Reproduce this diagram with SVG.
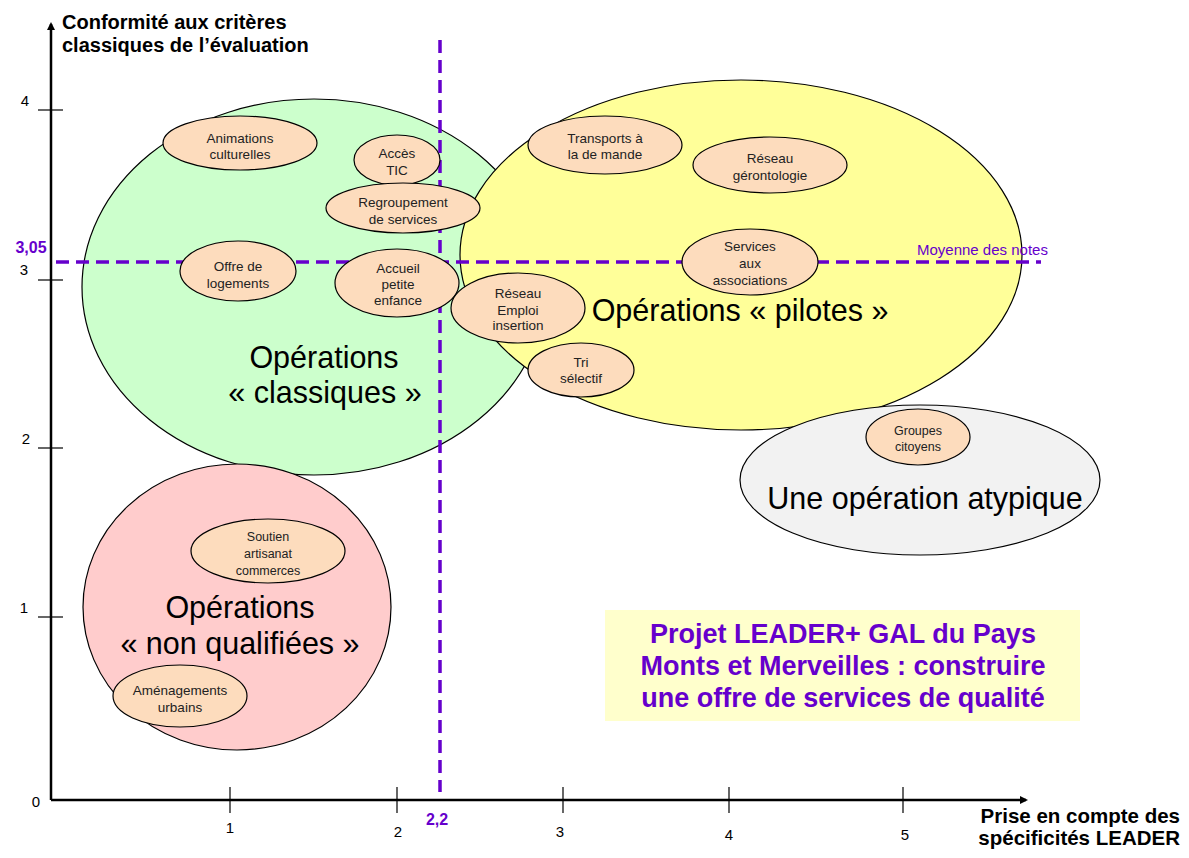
<svg xmlns="http://www.w3.org/2000/svg" width="1189" height="858" viewBox="0 0 1189 858">
<style>
.big{stroke:#000;stroke-width:1.2}
.op{fill:#fddcbd;stroke:#000;stroke-width:1.2}
.t{font-family:"Liberation Sans",Arial,sans-serif;font-size:13.5px;fill:#222;text-anchor:middle}
.t11{font-family:"Liberation Sans",Arial,sans-serif;font-size:12.5px;fill:#222;text-anchor:middle}
.lab{font-family:"Liberation Sans",Arial,sans-serif;font-size:30.5px;fill:#000;text-anchor:middle}
.ax{font-family:"Liberation Sans",Arial,sans-serif;font-weight:bold;fill:#000}
.num{font-family:"Liberation Sans",Arial,sans-serif;font-size:15px;fill:#000;text-anchor:middle}
.pnum{font-family:"Liberation Sans",Arial,sans-serif;font-size:16px;font-weight:bold;fill:#6600cc;text-anchor:middle}
.dash{stroke:#6600cc;stroke-width:3.5;stroke-dasharray:13 7;fill:none}
.axis{stroke:#000;stroke-width:2.5;fill:none}
.tick{stroke:#000;stroke-width:1.2}
.title{font-family:"Liberation Sans",Arial,sans-serif;font-size:27px;font-weight:bold;fill:#6600cc;text-anchor:middle}
</style>
<defs>
<marker id="arr" markerWidth="8" markerHeight="8" refX="6" refY="4" orient="auto" markerUnits="userSpaceOnUse" viewBox="0 0 8 8">
<path d="M0,0 L8,4 L0,8 z" fill="#000"/>
</marker>
</defs>
<rect width="1189" height="858" fill="#fff"/>

<g id="groups">
<ellipse id="g-classiques" class="big" cx="314" cy="287" rx="232" ry="188" fill="#ccffcc"/>
<ellipse id="g-pilotes" class="big" cx="741" cy="255" rx="281" ry="175" fill="#ffff99"/>
<ellipse id="g-atypique" class="big" cx="920" cy="480" rx="180" ry="75" fill="#f2f2f2"/>
<ellipse id="g-nonqual" class="big" cx="237" cy="607" rx="154" ry="143" fill="#ffcccc"/>
</g>

<g id="connectors">
<line x1="51" y1="800" x2="51" y2="24" class="axis" marker-end="url(#arr)"/>
<line x1="51" y1="800" x2="1026" y2="800" class="axis" marker-end="url(#arr)"/>
<line x1="38" y1="110" x2="63" y2="110" class="tick"/>
<line x1="38" y1="280" x2="63" y2="280" class="tick"/>
<line x1="38" y1="448" x2="63" y2="448" class="tick"/>
<line x1="38" y1="617" x2="63" y2="617" class="tick"/>
<line x1="230" y1="787" x2="230" y2="813" class="tick"/>
<line x1="397" y1="787" x2="397" y2="813" class="tick"/>
<line x1="563" y1="787" x2="563" y2="813" class="tick"/>
<line x1="729" y1="787" x2="729" y2="813" class="tick"/>
<line x1="903" y1="787" x2="903" y2="813" class="tick"/>
<line x1="440" y1="40" x2="440" y2="792" class="dash"/>
<line x1="56" y1="262" x2="1041" y2="262" class="dash"/>
</g>

<g id="axis-labels">
<text class="ax" x="62" y="29" style="font-size:20px">Conformité aux critères</text>
<text class="ax" x="62" y="52" style="font-size:20px">classiques de l’évaluation</text>
<text class="ax" x="1180" y="823" text-anchor="end" style="font-size:20.5px">Prise en compte des</text>
<text class="ax" x="1180" y="845" text-anchor="end" style="font-size:20.5px">spécificités LEADER</text>
<text class="num" x="25" y="106">4</text>
<text class="num" x="24" y="275">3</text>
<text class="num" x="26" y="444">2</text>
<text class="num" x="24" y="613">1</text>
<text class="num" x="36" y="807">0</text>
<text class="num" x="230" y="833">1</text>
<text class="num" x="398" y="837">2</text>
<text class="num" x="560" y="837">3</text>
<text class="num" x="729" y="840">4</text>
<text class="num" x="905" y="840">5</text>
<text class="pnum" x="437" y="825">2,2</text>
<text class="pnum" x="31" y="253">3,05</text>
<text x="917" y="255" style="font-family:'Liberation Sans',Arial,sans-serif;font-size:15px;fill:#6600cc">Moyenne des notes</text>
</g>

<g id="group-labels">
<text class="lab" x="740" y="321">Opérations « pilotes »</text>
<text class="lab" x="324" y="368">Opérations</text>
<text class="lab" x="325" y="403">« classiques »</text>
<text class="lab" x="925" y="509">Une opération atypique</text>
<text class="lab" x="240" y="618">Opérations</text>
<text class="lab" x="240" y="654">« non qualifiées »</text>
</g>

<g id="n-animations"><ellipse class="op" cx="240" cy="143" rx="77" ry="27"/><text class="t" x="240" y="143">Animations</text><text class="t" x="240" y="159">culturelles</text></g>
<g id="n-acces"><ellipse class="op" cx="397" cy="160" rx="43" ry="25"/><text class="t" x="397" y="158">Accès</text><text class="t" x="397" y="175">TIC</text></g>
<g id="n-regroupement"><ellipse class="op" cx="403" cy="208" rx="77" ry="25"/><text class="t" x="403" y="207">Regroupement</text><text class="t" x="403" y="224">de services</text></g>
<g id="n-offre"><ellipse class="op" cx="238" cy="271" rx="58" ry="30"/><text class="t" x="238" y="271">Offre de</text><text class="t" x="238" y="288">logements</text></g>
<g id="n-accueil"><ellipse class="op" cx="397" cy="283" rx="62" ry="34"/><text class="t" x="398" y="273">Accueil</text><text class="t" x="398" y="289">petite</text><text class="t" x="398" y="305">enfance</text></g>
<g id="n-reseau-emploi"><ellipse class="op" cx="518" cy="308" rx="67" ry="35"/><text class="t" x="518" y="298">Réseau</text><text class="t" x="518" y="315">Emploi</text><text class="t" x="518" y="330">insertion</text></g>
<g id="n-tri"><ellipse class="op" cx="581" cy="370" rx="53" ry="27"/><text class="t" x="581" y="367">Tri</text><text class="t" x="581" y="383">sélectif</text></g>
<g id="n-transports"><ellipse class="op" cx="605" cy="145" rx="77" ry="29"/><text class="t" x="605" y="143">Transports à</text><text class="t" x="605" y="159">la de mande</text></g>
<g id="n-geronto"><ellipse class="op" cx="770" cy="165" rx="77" ry="28"/><text class="t" x="770" y="163">Réseau</text><text class="t" x="770" y="180">gérontologie</text></g>
<g id="n-services"><ellipse class="op" cx="750" cy="262" rx="68" ry="33"/><text class="t" x="750" y="251">Services</text><text class="t" x="750" y="268">aux</text><text class="t" x="750" y="285">associations</text></g>
<g id="n-groupes"><ellipse class="op" cx="918" cy="437" rx="52" ry="28"/><text class="t11" x="918" y="435">Groupes</text><text class="t11" x="918" y="451">citoyens</text></g>
<g id="n-soutien"><ellipse class="op" cx="268" cy="551" rx="77" ry="32"/><text class="t11" x="268" y="541">Soutien</text><text class="t11" x="268" y="558">artisanat</text><text class="t11" x="268" y="575">commerces</text></g>
<g id="n-amenagements"><ellipse class="op" cx="180" cy="696" rx="67" ry="31"/><text class="t" x="180" y="695">Aménagements</text><text class="t" x="180" y="712">urbains</text></g>

<g id="title">
<rect x="605" y="610" width="475" height="111" fill="#ffffcc"/>
<text class="title" x="843" y="643">Projet LEADER+ GAL du Pays</text>
<text class="title" x="843" y="675">Monts et Merveilles : construire</text>
<text class="title" x="843" y="707">une offre de services de qualité</text>
</g>
</svg>
